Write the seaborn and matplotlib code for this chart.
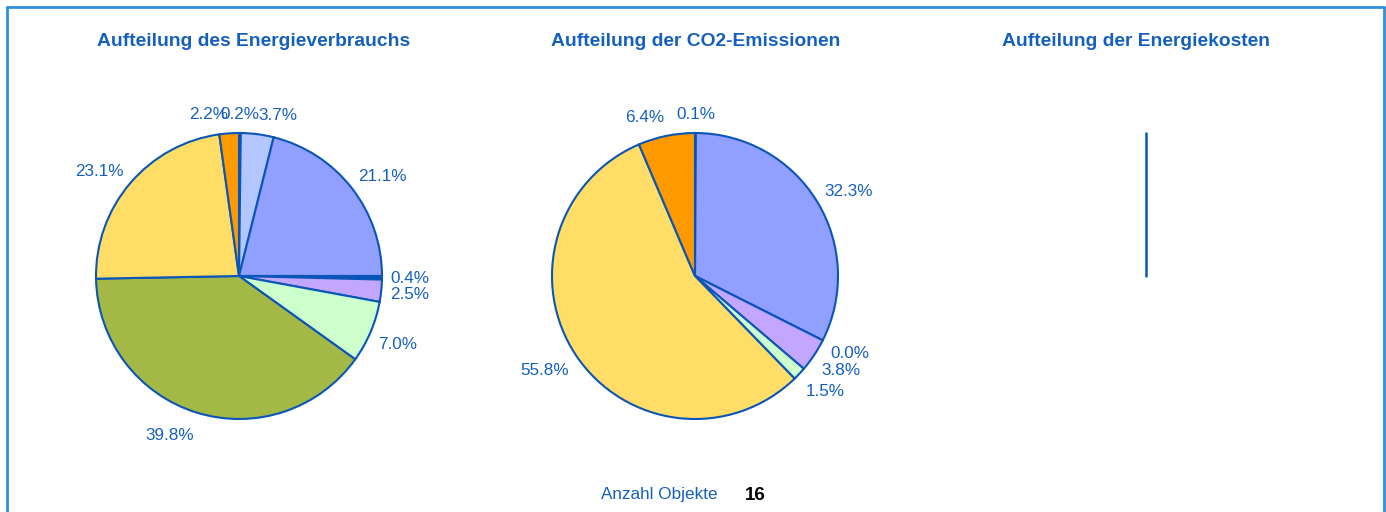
import matplotlib
matplotlib.use("Agg")
import numpy as np
import matplotlib.pyplot as plt
import seaborn as sns
from matplotlib.lines import Line2D

sns.set_theme(style="white")
plt.rcParams["font.family"] = ["Liberation Sans", "DejaVu Sans"]

# Data
titles = [
    "Aufteilung des Energieverbrauchs",
    "Aufteilung der CO2-Emissionen",
    "Aufteilung der Energiekosten",
]

energie_werte = [0.2, 3.7, 21.1, 0.4, 2.5, 7.0, 39.8, 23.1, 2.2]
energie_farben = ["#0055BB", "#B3C6FF", "#919FFF", "#0055BB", "#C2A6FF",
                  "#CCFFCC", "#A3B845", "#FFDD66", "#FF9900"]

co2_werte = [0.1, 32.3, 0.0, 3.8, 1.5, 55.8, 6.4]
co2_farben = ["#0055BB", "#919FFF", "#0055BB", "#C2A6FF",
              "#CCFFCC", "#FFDD66", "#FF9900"]

anzahl_label = "Anzahl Objekte"
anzahl_objekte = 16

blau = "#1560BD"
rand = "#0A56B8"

W, H = 1386, 512
fig = plt.figure(figsize=(W / 100, H / 100), dpi=100)

L = 1.4
R = 143


def make_ax(cx, cy):
    s = 2 * L * R
    ax = fig.add_axes([(cx - s / 2) / W, (H - cy - s / 2) / H, s / W, s / H])
    ax.set_xlim(-L, L)
    ax.set_ylim(-L, L)
    ax.set_aspect("equal")
    ax.axis("off")
    return ax


def draw_pie(ax, werte, farben):
    labels = [f"{v:.1f}%" for v in werte]
    wedges, texts = ax.pie(
        werte,
        colors=farben,
        labels=labels,
        startangle=90,
        counterclock=False,
        labeldistance=1.06,
        wedgeprops=dict(edgecolor=rand, linewidth=1.5),
        textprops=dict(color=blau, fontsize=12.3),
        frame=True,
    )
    # labels sit outside the rim, near-top labels centred
    for w, t in zip(wedges, texts):
        ang = np.deg2rad((w.theta1 + w.theta2) / 2)
        s = np.sin(ang)
        x, y = t.get_position()
        y = y + 0.07 * s
        if s < 0:
            y -= 0.035 * min(1, 3 * abs(s))
        t.set_position((x, y))
        if abs(np.cos(ang)) < 0.05:
            t.set_ha("center")
    ax.set_xlim(-L, L)
    ax.set_ylim(-L, L)
    ax.axis("off")


ax1 = make_ax(239, 276)
draw_pie(ax1, energie_werte, energie_farben)

ax2 = make_ax(695, 276)
draw_pie(ax2, co2_werte, co2_farben)

# Energiekosten: no values, only the start line of the pie remains
ax3 = make_ax(1146, 276)
ax3.plot([0, 0], [0, 1], color=rand, linewidth=1.8)

# Titles
for x, t in zip([254, 696, 1136], titles):
    fig.text(x / W, 1 - 41 / H, t, ha="center", va="center",
             color=blau, fontsize=13.9, fontweight="bold")

# Footer
fig.text(659 / W, 1 - 495 / H, anzahl_label, ha="center", va="center",
         color=blau, fontsize=12.3)
fig.text(755 / W, 1 - 495 / H, str(anzahl_objekte), ha="center", va="center",
         color="black", fontsize=13.5, fontweight="bold")

# Frame around the panel
frame_color = "#2E90E0"
fig.add_artist(Line2D([6.5 / W, 6.5 / W], [0, 1 - 6.5 / H],
                      transform=fig.transFigure, color=frame_color, lw=2))
fig.add_artist(Line2D([6.5 / W, 1383.5 / W], [1 - 6.5 / H, 1 - 6.5 / H],
                      transform=fig.transFigure, color=frame_color, lw=2))
fig.add_artist(Line2D([1383.5 / W, 1383.5 / W], [0, 1 - 6.5 / H],
                      transform=fig.transFigure, color=frame_color, lw=2))

fig.savefig("out.png", dpi=100, facecolor="white")
